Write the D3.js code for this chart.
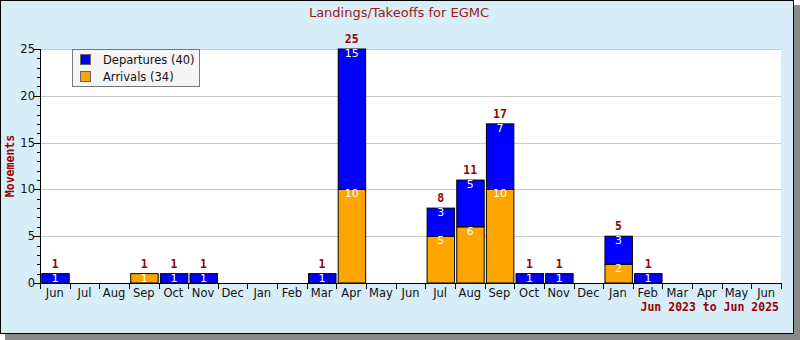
<!DOCTYPE html>
<html><head><meta charset="utf-8">
<script src="https://cdn.jsdelivr.net/npm/d3@7"></script>
<style>body{margin:0;padding:0;background:#fff}svg{display:block}</style>
</head><body>
<svg id="c" width="800" height="340"></svg>
<script>
const months = ["Jun","Jul","Aug","Sep","Oct","Nov","Dec","Jan","Feb","Mar","Apr","May","Jun","Jul","Aug","Sep","Oct","Nov","Dec","Jan","Feb","Mar","Apr","May","Jun"];
const arrivals   = [0,0,0,1,0,0,0,0,0,0,10,0,0,5,6,10,0,0,0,2,0,0,0,0,0];
const departures = [1,0,0,0,1,1,0,0,0,1,15,0,0,3,5,7,1,1,0,3,1,0,0,0,0];
const yTicks = [0,5,10,15,20,25];
const seriesNames = ["Departures","Arrivals"];
const title = "Landings/Takeoffs for EGMC";
const yLabel = "Movements";
const rangeLabel = "Jun 2023 to Jun 2025";

const svg = d3.select("#c");
const W = 800, H = 340;
const bg = "#d7eef8", dark = "#990000";
const L = 40, R = 781, T = 49, B = 283;

// shadow + frame
svg.append("rect").attr("x",5).attr("y",5).attr("width",W-5).attr("height",H-5).attr("fill","#8a8a8a");
svg.append("rect").attr("x",0.5).attr("y",0.5).attr("width",793).attr("height",333).attr("fill",bg).attr("stroke","#000");

svg.append("rect").attr("x",L).attr("y",T).attr("width",R-L).attr("height",B-T).attr("fill","#fff");

const x = d3.scaleBand().domain(d3.range(months.length)).range([L,R]).padding(0);
const y = d3.scaleLinear().domain([0,25]).range([B,T]);
const bw = x.bandwidth();

// grid
svg.append("g").selectAll("line").data(yTicks.filter(d=>d>0)).join("line")
  .attr("x1",L).attr("x2",R).attr("y1",d=>Math.round(y(d))+0.5).attr("y2",d=>Math.round(y(d))+0.5)
  .attr("stroke","#c8c8c8");

// title
svg.append("text").attr("x",399).attr("y",17).attr("text-anchor","middle")
  .attr("font-family","DejaVu Sans").attr("font-size",13).attr("fill","#a01818").text(title);

// bars
const g = svg.append("g");
months.forEach((m,i)=>{
  const a = arrivals[i], d = departures[i];
  const bx = x(i)+1.8, w = bw-2.2;
  if (a>0) {
    g.append("rect").attr("x",bx).attr("y",y(a)).attr("width",w).attr("height",y(0)-y(a))
      .attr("fill","#ffa500").attr("stroke","#000").attr("stroke-width",1);
  }
  if (d>0) {
    g.append("rect").attr("x",bx).attr("y",y(a+d)).attr("width",w).attr("height",y(a)-y(a+d))
      .attr("fill","#0000ff").attr("stroke","#000").attr("stroke-width",1);
  }
  if (a>0) g.append("text").attr("x",x(i)+bw/2+0.5).attr("y",y(a)+8).attr("text-anchor","middle")
      .attr("font-family","DejaVu Sans").attr("font-size",11).attr("fill","#fff").text(a);
  if (d>0) g.append("text").attr("x",x(i)+bw/2+0.5).attr("y",y(a+d)+8).attr("text-anchor","middle")
      .attr("font-family","DejaVu Sans").attr("font-size",11).attr("fill","#fff").text(d);
  if (a+d>0) g.append("text").attr("x",x(i)+bw/2+0.5).attr("y",y(a+d)-6).attr("text-anchor","middle")
      .attr("font-family","DejaVu Sans Mono").attr("font-weight","bold").attr("font-size",11.5).attr("fill",dark).text(a+d);
});

// y axis
const ya = svg.append("g");
ya.append("line").attr("x1",L+0.5).attr("x2",L+0.5).attr("y1",T).attr("y2",B+1).attr("stroke","#000");
d3.range(0,26).forEach(v=>{
  const yy = Math.round(y(v))+0.5;
  const major = yTicks.includes(v);
  ya.append("line").attr("x1",L-(major?6:3)).attr("x2",L).attr("y1",yy).attr("y2",yy).attr("stroke","#000");
});
ya.selectAll("text").data(yTicks).join("text").attr("x",L-5).attr("y",d=>y(d)+4).attr("text-anchor","end")
  .attr("font-family","DejaVu Sans").attr("font-size",11.5).attr("fill","#111").text(d=>d);

// x axis
const xa = svg.append("g");
xa.append("line").attr("x1",L).attr("x2",R+1).attr("y1",B+0.5).attr("y2",B+0.5).attr("stroke","#000");
d3.range(months.length+1).forEach(i=>{
  const xx = Math.round(L + i*bw)+0.5;
  xa.append("line").attr("x1",xx).attr("x2",xx).attr("y1",B).attr("y2",B+6).attr("stroke","#000");
});
xa.selectAll("text").data(months).join("text").attr("x",(d,i)=>x(i)+bw/2).attr("y",B+14)
  .attr("text-anchor","middle").attr("font-family","DejaVu Sans").attr("font-size",11.5).attr("fill","#111").text(d=>d);

// y label
svg.append("text").attr("transform","translate(14,166) rotate(-90)").attr("text-anchor","middle")
  .attr("font-family","DejaVu Sans Mono").attr("font-weight","bold").attr("font-size",11.5).attr("fill",dark).text(yLabel);

// range label
svg.append("text").attr("x",779).attr("y",311).attr("text-anchor","end")
  .attr("font-family","DejaVu Sans Mono").attr("font-weight","bold").attr("font-size",11.5).attr("fill",dark).text(rangeLabel);

// legend
const lg = svg.append("g");
lg.append("rect").attr("x",72.5).attr("y",49.5).attr("width",127).attr("height",37).attr("fill","#f5f5f5").attr("stroke","#777");
const totals = [d3.sum(departures), d3.sum(arrivals)];
const colors = ["#0000ff","#ffa500"];
seriesNames.forEach((n,k)=>{
  lg.append("rect").attr("x",80.5).attr("y",54.5+k*17).attr("width",10).attr("height",10).attr("fill",colors[k]).attr("stroke","#666");
  lg.append("text").attr("x",103).attr("y",64+k*17).attr("font-family","DejaVu Sans").attr("font-size",11.5).attr("fill","#111")
    .text(`${n} (${totals[k]})`);
});
</script>
</body></html>
